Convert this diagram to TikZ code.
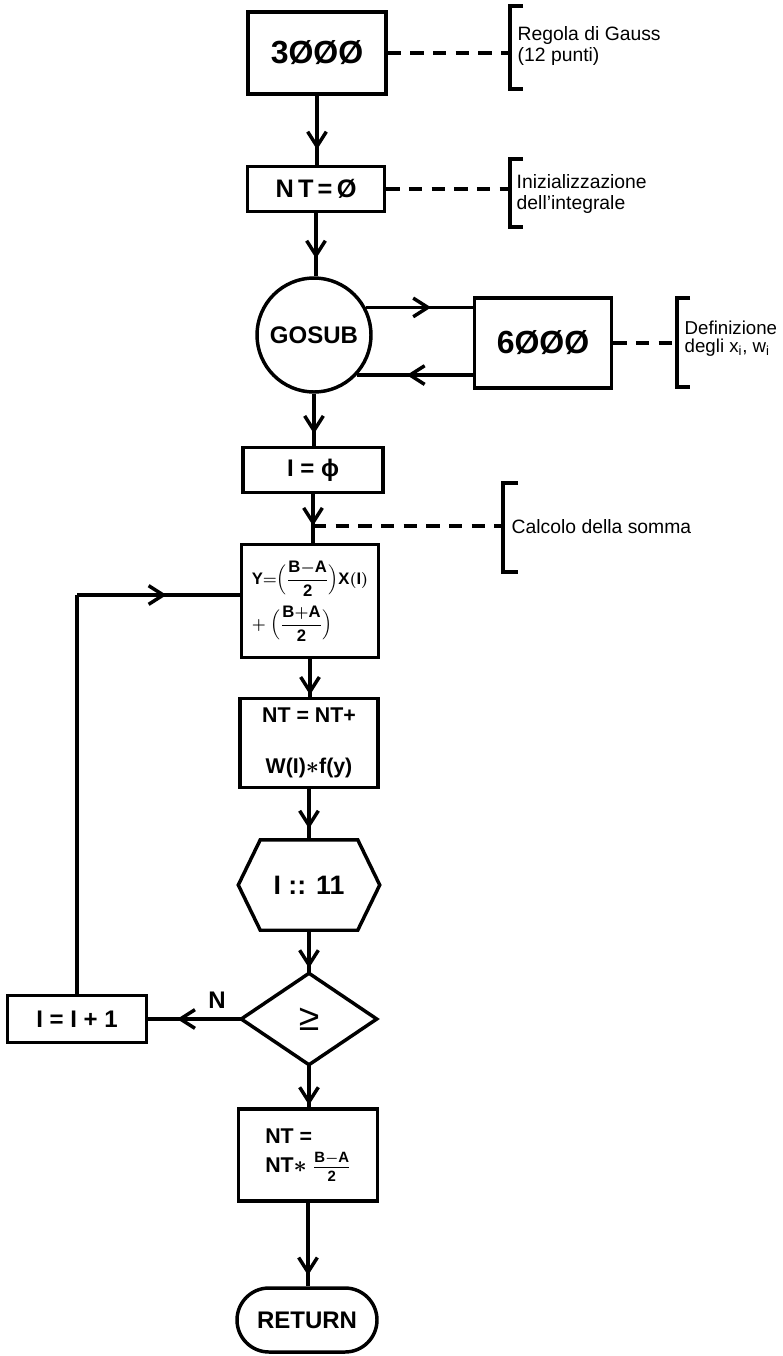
\documentclass[tikz,border=0pt]{standalone}
\usepackage{amsmath,amssymb}
\usepackage{fontspec}
\setmainfont{Liberation Sans}
\setsansfont{Liberation Sans}
\usetikzlibrary{arrows.meta,decorations.markings,calc}
\begin{document}
\begin{tikzpicture}[x=0.75pt,y=-0.75pt,line width=2.6pt,
  sz/.style 2 args={minimum width=#1*0.75pt,minimum height=#2*0.75pt},
  box/.style={draw,rectangle,inner sep=0pt},
  fs/.style={font=\fontsize{#1}{#1}\selectfont\bfseries\boldmath},
  note/.style={anchor=west,align=left,inner sep=0pt,font=\fontsize{14.5}{16}\selectfont},
  dashline/.style={line width=2.6pt,dash pattern=on 10pt off 7pt},
  bracket/.style={line width=2.6pt},
  tip/.style={postaction={decorate},decoration={markings,mark=at position #1 with {\arrow{Straight Barb[length=11pt,width=14pt]}}}}
]
\useasboundingbox (0,0) rectangle (782,1356);
\fill[white] (0,0) rectangle (782,1356);

% main nodes
\node[box,sz={138}{82},fs=24] (b3000) at (317,53) {3ØØØ};
\node[box,sz={137}{45},fs=19] (bnt) at (316,189) {N\,T\,=\,Ø};
\node[draw,circle,minimum size=114*0.75pt,inner sep=0pt,fs=18] (gos) at (314,335) {GOSUB};
\node[box,sz={137}{90},fs=24] (b6000) at (543,343) {6ØØØ};
\node[box,sz={140}{45},fs=18] (bi0) at (313,470) {I = ϕ};
\node[box,sz={137}{113},fs=12.5,align=left] (by) at (310,601)
  {$\mathsf{Y}{=}\Bigl(\dfrac{\mathsf{B{-}A}}{\mathsf{2}}\Bigr)\mathsf{X(I)}$\\[6pt]
   $+\;\Bigl(\dfrac{\mathsf{B{+}A}}{\mathsf{2}}\Bigr)$};
\node[box,sz={138}{89},fs=16,align=center] (bnt2) at (309,743) {NT = NT+\\[22pt]W(I)$\ast$f(y)};
\node[sz={138}{87},fs=20,inner sep=0pt] (hex) at (309,885) {I :: 11};
\node[sz={132}{88},inner sep=0pt,font=\fontsize{28}{28}\selectfont] (dia) at (309,1019) {≥};
\node[box,sz={139}{47},fs=18] (binc) at (77,1019) {I = I + 1};
\node[box,sz={139}{92},fs=16,align=left] (bnt3) at (308,1155)
  {NT =\\[6pt]NT$\ast$ $\frac{\mathsf{B-A}}{\mathsf{2}}$};
\node[draw,rectangle,rounded corners=24pt,sz={140}{64},fs=18,inner sep=0pt] (ret) at (307,1320) {RETURN};
\node[fs=18] (nlab) at (217,1000) {N};

% hexagon and diamond outlines
\draw ($(hex.north west)+(22,0)$) -- ($(hex.north east)+(-22,0)$) -- (hex.east)
  -- ($(hex.south east)+(-22,0)$) -- ($(hex.south west)+(22,0)$) -- (hex.west) -- cycle;
\draw (dia.north) -- (dia.east) -- (dia.south) -- (dia.west) -- cycle;

% connectors
\draw[tip=0.78] (b3000.south) -- (b3000.south |- bnt.north);
\draw[tip=0.72] (bnt.south) -- (bnt.south |- gos.north);
\draw[tip=0.61] (gos.28.3) -- (gos.28.3 -| b6000.west);
\draw[tip=0.57] (gos.-43.2 -| b6000.west) -- (gos.-43.2);
\draw[tip=0.77] (gos.south) -- (gos.south |- bi0.north);
\draw[tip=0.65] (bi0.south) -- (bi0.south |- by.north);
\draw[tip=0.95] (by.south) -- (by.south |- bnt2.north);
\draw[tip=0.78] (bnt2.south) -- (bnt2.south |- hex.north);
\draw[tip=0.88] (hex.south) -- (dia.north);
\draw[tip=0.69] (dia.west) -- (binc.east);
\coordinate (lc) at (77,595);
\draw (binc.north) -- (lc);
\draw[tip=0.55] (lc) -- (lc -| by.west);
\draw[tip=0.95] (dia.south) -- (dia.south |- bnt3.north);
\draw[tip=0.87] (bnt3.south) -- (bnt3.south |- ret.north);

% annotation A
\coordinate (brA) at (510,53);
\draw[dashline] (b3000.east) -- (brA);
\draw[bracket] (523,6) -- (510,6) -- (510,89) -- (523,89);
\node[note] (tA) at (516,46) {Regola di Gauss\\(12 punti)};

% annotation B
\coordinate (brB) at (510,189);
\draw[dashline] (bnt.east) -- (brB);
\draw[bracket] (523,159) -- (510,159) -- (510,227) -- (523,227);
\node[note] (tB) at (515,194) {Inizializzazione\\dell'integrale};

% annotation C
\coordinate (brC) at (677,343);
\draw[dashline] (b6000.east) -- (brC);
\draw[bracket] (690,298) -- (677,298) -- (677,387) -- (690,387);
\node[note,font=\fontsize{14}{13.5}\selectfont] (tC) at (683,339) {Definizione\\degli x\textsubscript{i}, w\textsubscript{i}};

% annotation D
\coordinate (cs) at ($(bi0.south)!0.65!(bi0.south |- by.north)$);
\coordinate (brD) at (503,527);
\draw[dashline] (cs) -- (cs -| brD);
\draw[bracket] (518,483) -- (503,483) -- (503,572) -- (518,572);
\node[note] (tD) at (510,527) {Calcolo della somma};
\end{tikzpicture}
\end{document}
